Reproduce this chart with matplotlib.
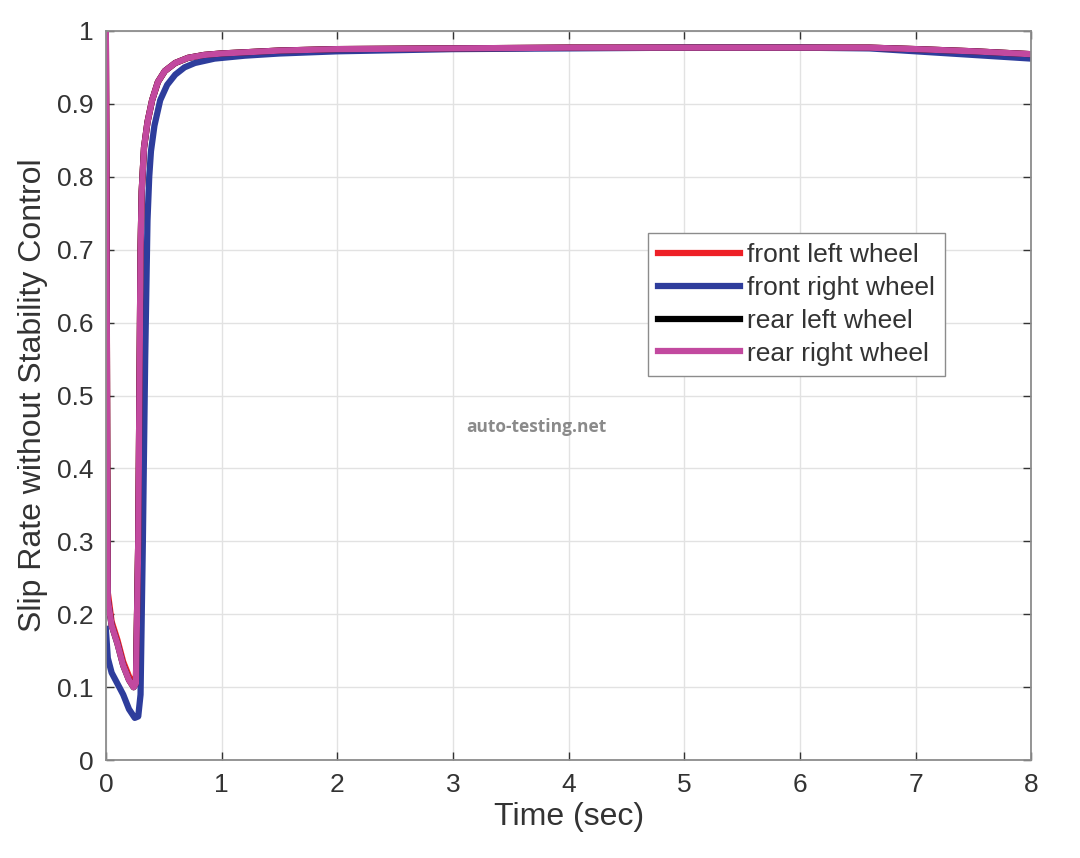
import matplotlib
matplotlib.use("Agg")
import matplotlib.pyplot as plt

# time (sec) / slip rate
fl_t = [0, 0.005, 0.012, 0.017, 0.05, 0.1, 0.15, 0.2, 0.24, 0.26, 0.28, 0.3, 0.31, 0.33, 0.36,
        0.40, 0.45, 0.51, 0.6, 0.71, 0.85, 1.0, 1.5, 2, 3, 4, 5, 6, 6.6, 7, 7.5, 8]
fl_v = [1.0, 0.8, 0.42, 0.23, 0.19, 0.165, 0.135, 0.115, 0.105, 0.11, 0.3, 0.7, 0.78, 0.84, 0.875,
        0.905, 0.93, 0.945, 0.956, 0.963, 0.967, 0.969, 0.973, 0.975, 0.976, 0.977, 0.977, 0.977,
        0.977, 0.975, 0.972, 0.968]

fr_t = [0, 0.017, 0.05, 0.1, 0.15, 0.2, 0.25, 0.28, 0.3, 0.32, 0.34, 0.36, 0.375, 0.39, 0.42,
        0.47, 0.53, 0.6, 0.68, 0.77, 0.94, 1.2, 1.5, 2, 3, 4, 5, 6, 6.6, 7, 7.5, 8]
fr_v = [0.18, 0.14, 0.12, 0.105, 0.09, 0.07, 0.058, 0.06, 0.09, 0.3, 0.55, 0.74, 0.8, 0.835, 0.87,
        0.905, 0.926, 0.94, 0.95, 0.956, 0.962, 0.966, 0.969, 0.972, 0.975, 0.976, 0.977, 0.977,
        0.976, 0.972, 0.967, 0.962]

rl_t = [0, 0.005, 0.012, 0.017, 0.05, 0.1, 0.15, 0.2, 0.24, 0.26, 0.28, 0.3, 0.31, 0.33, 0.36,
        0.40, 0.45, 0.51, 0.6, 0.71, 0.85, 1.0, 1.5, 2, 3, 4, 5, 6, 6.6, 7, 7.5, 8]
rl_v = [1.0, 0.8, 0.4, 0.22, 0.185, 0.16, 0.13, 0.11, 0.1, 0.105, 0.3, 0.7, 0.78, 0.84, 0.875,
        0.905, 0.93, 0.945, 0.956, 0.963, 0.967, 0.969, 0.973, 0.975, 0.976, 0.977, 0.977, 0.977,
        0.977, 0.975, 0.972, 0.968]

rr_t = [0, 0.005, 0.012, 0.017, 0.05, 0.1, 0.15, 0.2, 0.24, 0.26, 0.28, 0.3, 0.31, 0.33, 0.36,
        0.40, 0.45, 0.51, 0.6, 0.71, 0.85, 1.0, 1.5, 2, 3, 4, 5, 6, 6.6, 7, 7.5, 8]
rr_v = [1.0, 0.8, 0.4, 0.22, 0.185, 0.16, 0.13, 0.11, 0.1, 0.105, 0.3, 0.7, 0.78, 0.84, 0.875,
        0.905, 0.93, 0.945, 0.956, 0.963, 0.967, 0.969, 0.973, 0.975, 0.976, 0.977, 0.977, 0.977,
        0.977, 0.975, 0.972, 0.968]

labels = ["front left wheel", "front right wheel", "rear left wheel", "rear right wheel"]
colors = ["#ee2027", "#2e3d9c", "#000000", "#c2499f"]
x_ticks = [0, 1, 2, 3, 4, 5, 6, 7, 8]
y_ticks = [0, 0.1, 0.2, 0.3, 0.4, 0.5, 0.6, 0.7, 0.8, 0.9, 1]
y_ticklabels = ["0", "0.1", "0.2", "0.3", "0.4", "0.5", "0.6", "0.7", "0.8", "0.9", "1"]

plt.rcParams["font.family"] = ["Liberation Sans", "DejaVu Sans"]

fig = plt.figure(figsize=(10.8, 8.58), dpi=100)
ax = fig.add_axes([0.098, 0.114, 0.857, 0.85])

series = [(fl_t, fl_v), (fr_t, fr_v), (rl_t, rl_v), (rr_t, rr_v)]
for (t, v), lab, c in zip(series, labels, colors):
    ax.plot(t, v, color=c, lw=4.5, label=lab, solid_joinstyle="round")

ax.set_xlim(0, 8)
ax.set_ylim(0, 1)
ax.set_xticks(x_ticks)
ax.set_yticks(y_ticks)
ax.set_yticklabels(y_ticklabels)
ax.grid(True, color="#e2e2e2", lw=1)
ax.set_axisbelow(True)
ax.tick_params(direction="in", top=True, right=True, length=6, width=1,
               colors="#333333", labelsize=19, pad=9)
for s in ax.spines.values():
    s.set_color("#8c8c8c")
    s.set_linewidth(1.3)

ax.set_xlabel("Time (sec)", fontsize=23, color="#333333", labelpad=4)
ax.set_ylabel("Slip Rate without Stability Control", fontsize=23, color="#333333", labelpad=6)

leg = ax.legend(loc="upper right", bbox_to_anchor=(0.907, 0.723), fontsize=19,
                frameon=True, fancybox=False, framealpha=1, edgecolor="#8c8c8c",
                handlelength=3.1, handletextpad=0.25, labelspacing=0.33, borderpad=0.4,
                borderaxespad=0)
for t in leg.get_texts():
    t.set_color("#333333")

fig.text(0.497, 0.502, "auto-testing.net", fontsize=12.5, fontweight="bold",
         color="#8a8a8a", ha="center", va="center", family=["Open Sans", "DejaVu Sans"])

fig.savefig("out.png", dpi=100)
